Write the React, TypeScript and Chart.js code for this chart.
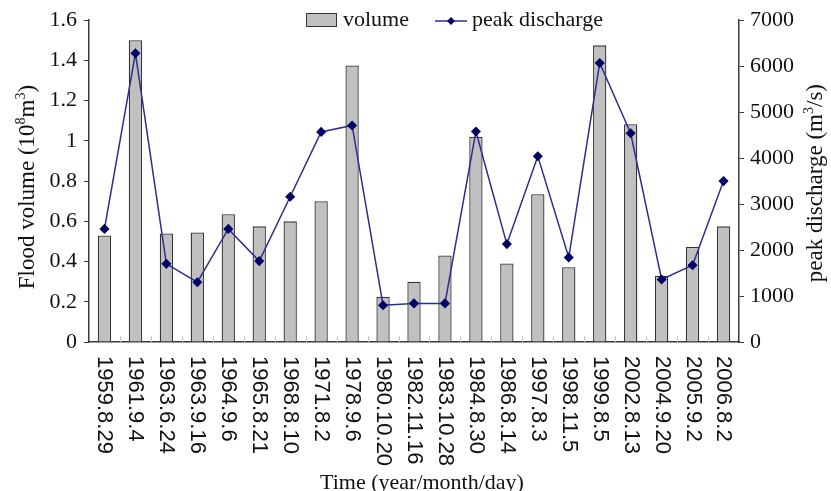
import React, { useEffect, useRef } from "react";
import { Chart, registerables } from "chart.js";

Chart.register(...registerables);

const categories = [
  "1959.8.29", "1961.9.4", "1963.6.24", "1963.9.16", "1964.9.6", "1965.8.21",
  "1968.8.10", "1971.8.2", "1978.9.6", "1980.10.20", "1982.11.16", "1983.10.28",
  "1984.8.30", "1986.8.14", "1997.8.3", "1998.11.5", "1999.8.5", "2002.8.13",
  "2004.9.20", "2005.9.2", "2006.8.2",
];

const volume = [
  0.53, 1.5, 0.54, 0.545, 0.635, 0.575, 0.6, 0.7, 1.375, 0.225, 0.3,
  0.43, 1.02, 0.39, 0.735, 0.372, 1.475, 1.083, 0.33, 0.472, 0.575,
];

const peakDischarge = [
  2460, 6280, 1700, 1300, 2460, 1760, 3160, 4570, 4710, 800, 840,
  840, 4580, 2130, 4040, 1840, 6070, 4540, 1360, 1670, 3500,
];

const volumeTicks = { min: 0, max: 1.6, step: 0.2 };
const dischargeTicks = { min: 0, max: 7000, step: 1000 };

const SERIF = "'Liberation Serif', 'Times New Roman', serif";
const SANS = "'Liberation Sans', Arial, sans-serif";
const AXIS_COLOR = "#3a3a3a";
const BAR_FILL = "#c0c0c0";
const BAR_STROKE = "#333333";
const LINE_COLOR = "#2e2e8f";
const POINT_COLOR = "#000066";

function drawParts(ctx: CanvasRenderingContext2D, parts: { t: string; sup?: boolean }[], size: number) {
  let total = 0;
  for (const p of parts) {
    ctx.font = `${p.sup ? Math.round(size * 0.62) : size}px ${SERIF}`;
    total += ctx.measureText(p.t).width;
  }
  let x = -total / 2;
  for (const p of parts) {
    ctx.font = `${p.sup ? Math.round(size * 0.62) : size}px ${SERIF}`;
    ctx.textAlign = "left";
    ctx.textBaseline = "alphabetic";
    ctx.fillText(p.t, x, p.sup ? -size * 0.38 : 0);
    x += ctx.measureText(p.t).width;
  }
}

const customPlugin = {
  id: "customDecor",
  beforeDatasetsDraw(chart: any) {
    const ctx = chart.ctx as CanvasRenderingContext2D;
    const area = chart.chartArea;
    ctx.save();
    ctx.strokeStyle = "#c8c8c8";
    ctx.lineWidth = 1;
    const n = categories.length;
    const w = (area.right - area.left) / n;
    for (let i = 1; i < n; i++) {
      const x = Math.round(area.left + i * w) + 0.5;
      ctx.beginPath();
      ctx.moveTo(x, area.bottom);
      ctx.lineTo(x, area.bottom - 6);
      ctx.stroke();
    }
    ctx.restore();
  },
  afterDraw(chart: any) {
    const ctx = chart.ctx as CanvasRenderingContext2D;
    const xs = chart.scales.x;
    const area = chart.chartArea;
    ctx.save();
    ctx.fillStyle = "#111";
    ctx.font = `22px ${SANS}`;
    categories.forEach((c, i) => {
      const x = xs.getPixelForValue(i);
      ctx.save();
      ctx.translate(x, area.bottom + 14);
      ctx.rotate(Math.PI / 2);
      ctx.textAlign = "left";
      ctx.textBaseline = "middle";
      ctx.fillText(c, 0, 0);
      ctx.restore();
    });
    ctx.font = `22px ${SERIF}`;
    ctx.textAlign = "center";
    ctx.textBaseline = "alphabetic";
    ctx.fillText("Time (year/month/day)", (area.left + area.right) / 2 + 8, 489);
    ctx.save();
    ctx.translate(34, (area.top + area.bottom) / 2 + 6);
    ctx.rotate(-Math.PI / 2);
    drawParts(ctx, [
      { t: "Flood volume (10" },
      { t: "8", sup: true },
      { t: "m" },
      { t: "3", sup: true },
      { t: ")" },
    ], 23);
    ctx.restore();
    ctx.save();
    ctx.translate(822, (area.top + area.bottom) / 2 + 2);
    ctx.rotate(-Math.PI / 2);
    drawParts(ctx, [
      { t: "peak discharge (m" },
      { t: "3", sup: true },
      { t: "/s)" },
    ], 23);
    ctx.restore();
    ctx.fillStyle = BAR_FILL;
    ctx.strokeStyle = BAR_STROKE;
    ctx.lineWidth = 1;
    ctx.fillRect(306.5, 13.5, 30, 13);
    ctx.strokeRect(306.5, 13.5, 30, 13);
    ctx.fillStyle = "#111";
    ctx.font = `22px ${SERIF}`;
    ctx.textAlign = "left";
    ctx.textBaseline = "middle";
    ctx.fillText("volume", 343, 20);
    ctx.strokeStyle = LINE_COLOR;
    ctx.lineWidth = 1.5;
    ctx.beginPath();
    ctx.moveTo(435, 21);
    ctx.lineTo(467, 21);
    ctx.stroke();
    ctx.fillStyle = POINT_COLOR;
    ctx.beginPath();
    ctx.moveTo(451, 17);
    ctx.lineTo(455, 21);
    ctx.lineTo(451, 25);
    ctx.lineTo(447, 21);
    ctx.closePath();
    ctx.fill();
    ctx.fillStyle = "#111";
    ctx.fillText("peak discharge", 472, 20);
    ctx.restore();
  },
};

export default function App() {
  const ref = useRef<HTMLCanvasElement | null>(null);
  useEffect(() => {
    if (!ref.current) return;
    const chart = new Chart(ref.current, {
      type: "bar",
      data: {
        labels: categories,
        datasets: [
          {
            type: "line",
            label: "peak discharge",
            data: peakDischarge,
            yAxisID: "y1",
            borderColor: LINE_COLOR,
            borderWidth: 1.5,
            pointStyle: "rectRot",
            pointRadius: 4,
            pointBackgroundColor: POINT_COLOR,
            pointBorderColor: POINT_COLOR,
            tension: 0,
            order: 0,
          } as any,
          {
            type: "bar",
            label: "volume",
            data: volume,
            yAxisID: "y",
            backgroundColor: BAR_FILL,
            borderColor: BAR_STROKE,
            borderWidth: 1.3,
            barPercentage: 0.43,
            categoryPercentage: 1,
            order: 1,
          } as any,
        ],
      },
      options: {
        responsive: false,
        animation: false,
        layout: { padding: { top: 19, left: 0, right: 0, bottom: 0 } },
        plugins: { legend: { display: false }, tooltip: { enabled: false } },
        scales: {
          x: {
            offset: true,
            grid: { display: false },
            ticks: { display: false },
            border: { display: true, color: AXIS_COLOR, width: 1.5 },
            afterFit(scale: any) {
              scale.height = 149;
            },
          },
          y: {
            position: "left",
            min: volumeTicks.min,
            max: volumeTicks.max,
            ticks: {
              stepSize: volumeTicks.step,
              color: "#111",
              font: { family: SERIF, size: 22 },
              padding: 7,
              callback: (v: any) => String(Number(Number(v).toFixed(1))),
            },
            grid: { drawOnChartArea: false, drawTicks: true, tickLength: 5, color: AXIS_COLOR },
            border: { display: true, color: AXIS_COLOR, width: 1.5 },
            afterFit(scale: any) {
              scale.width = 89;
            },
          },
          y1: {
            position: "right",
            min: dischargeTicks.min,
            max: dischargeTicks.max,
            ticks: {
              stepSize: dischargeTicks.step,
              color: "#111",
              font: { family: SERIF, size: 22 },
              padding: 6,
              callback: (v: any) => String(v),
            },
            grid: { drawOnChartArea: false, drawTicks: true, tickLength: 5, color: AXIS_COLOR },
            border: { display: true, color: AXIS_COLOR, width: 1.5 },
            afterFit(scale: any) {
              scale.width = 92;
            },
          },
        },
      },
      plugins: [customPlugin],
    });
    return () => chart.destroy();
  }, []);
  return (
    <canvas
      ref={ref}
      width={831}
      height={491}
      style={{ position: "absolute", left: 0, top: 0, width: 831, height: 491, display: "block", background: "#fff" }}
    />
  );
}
